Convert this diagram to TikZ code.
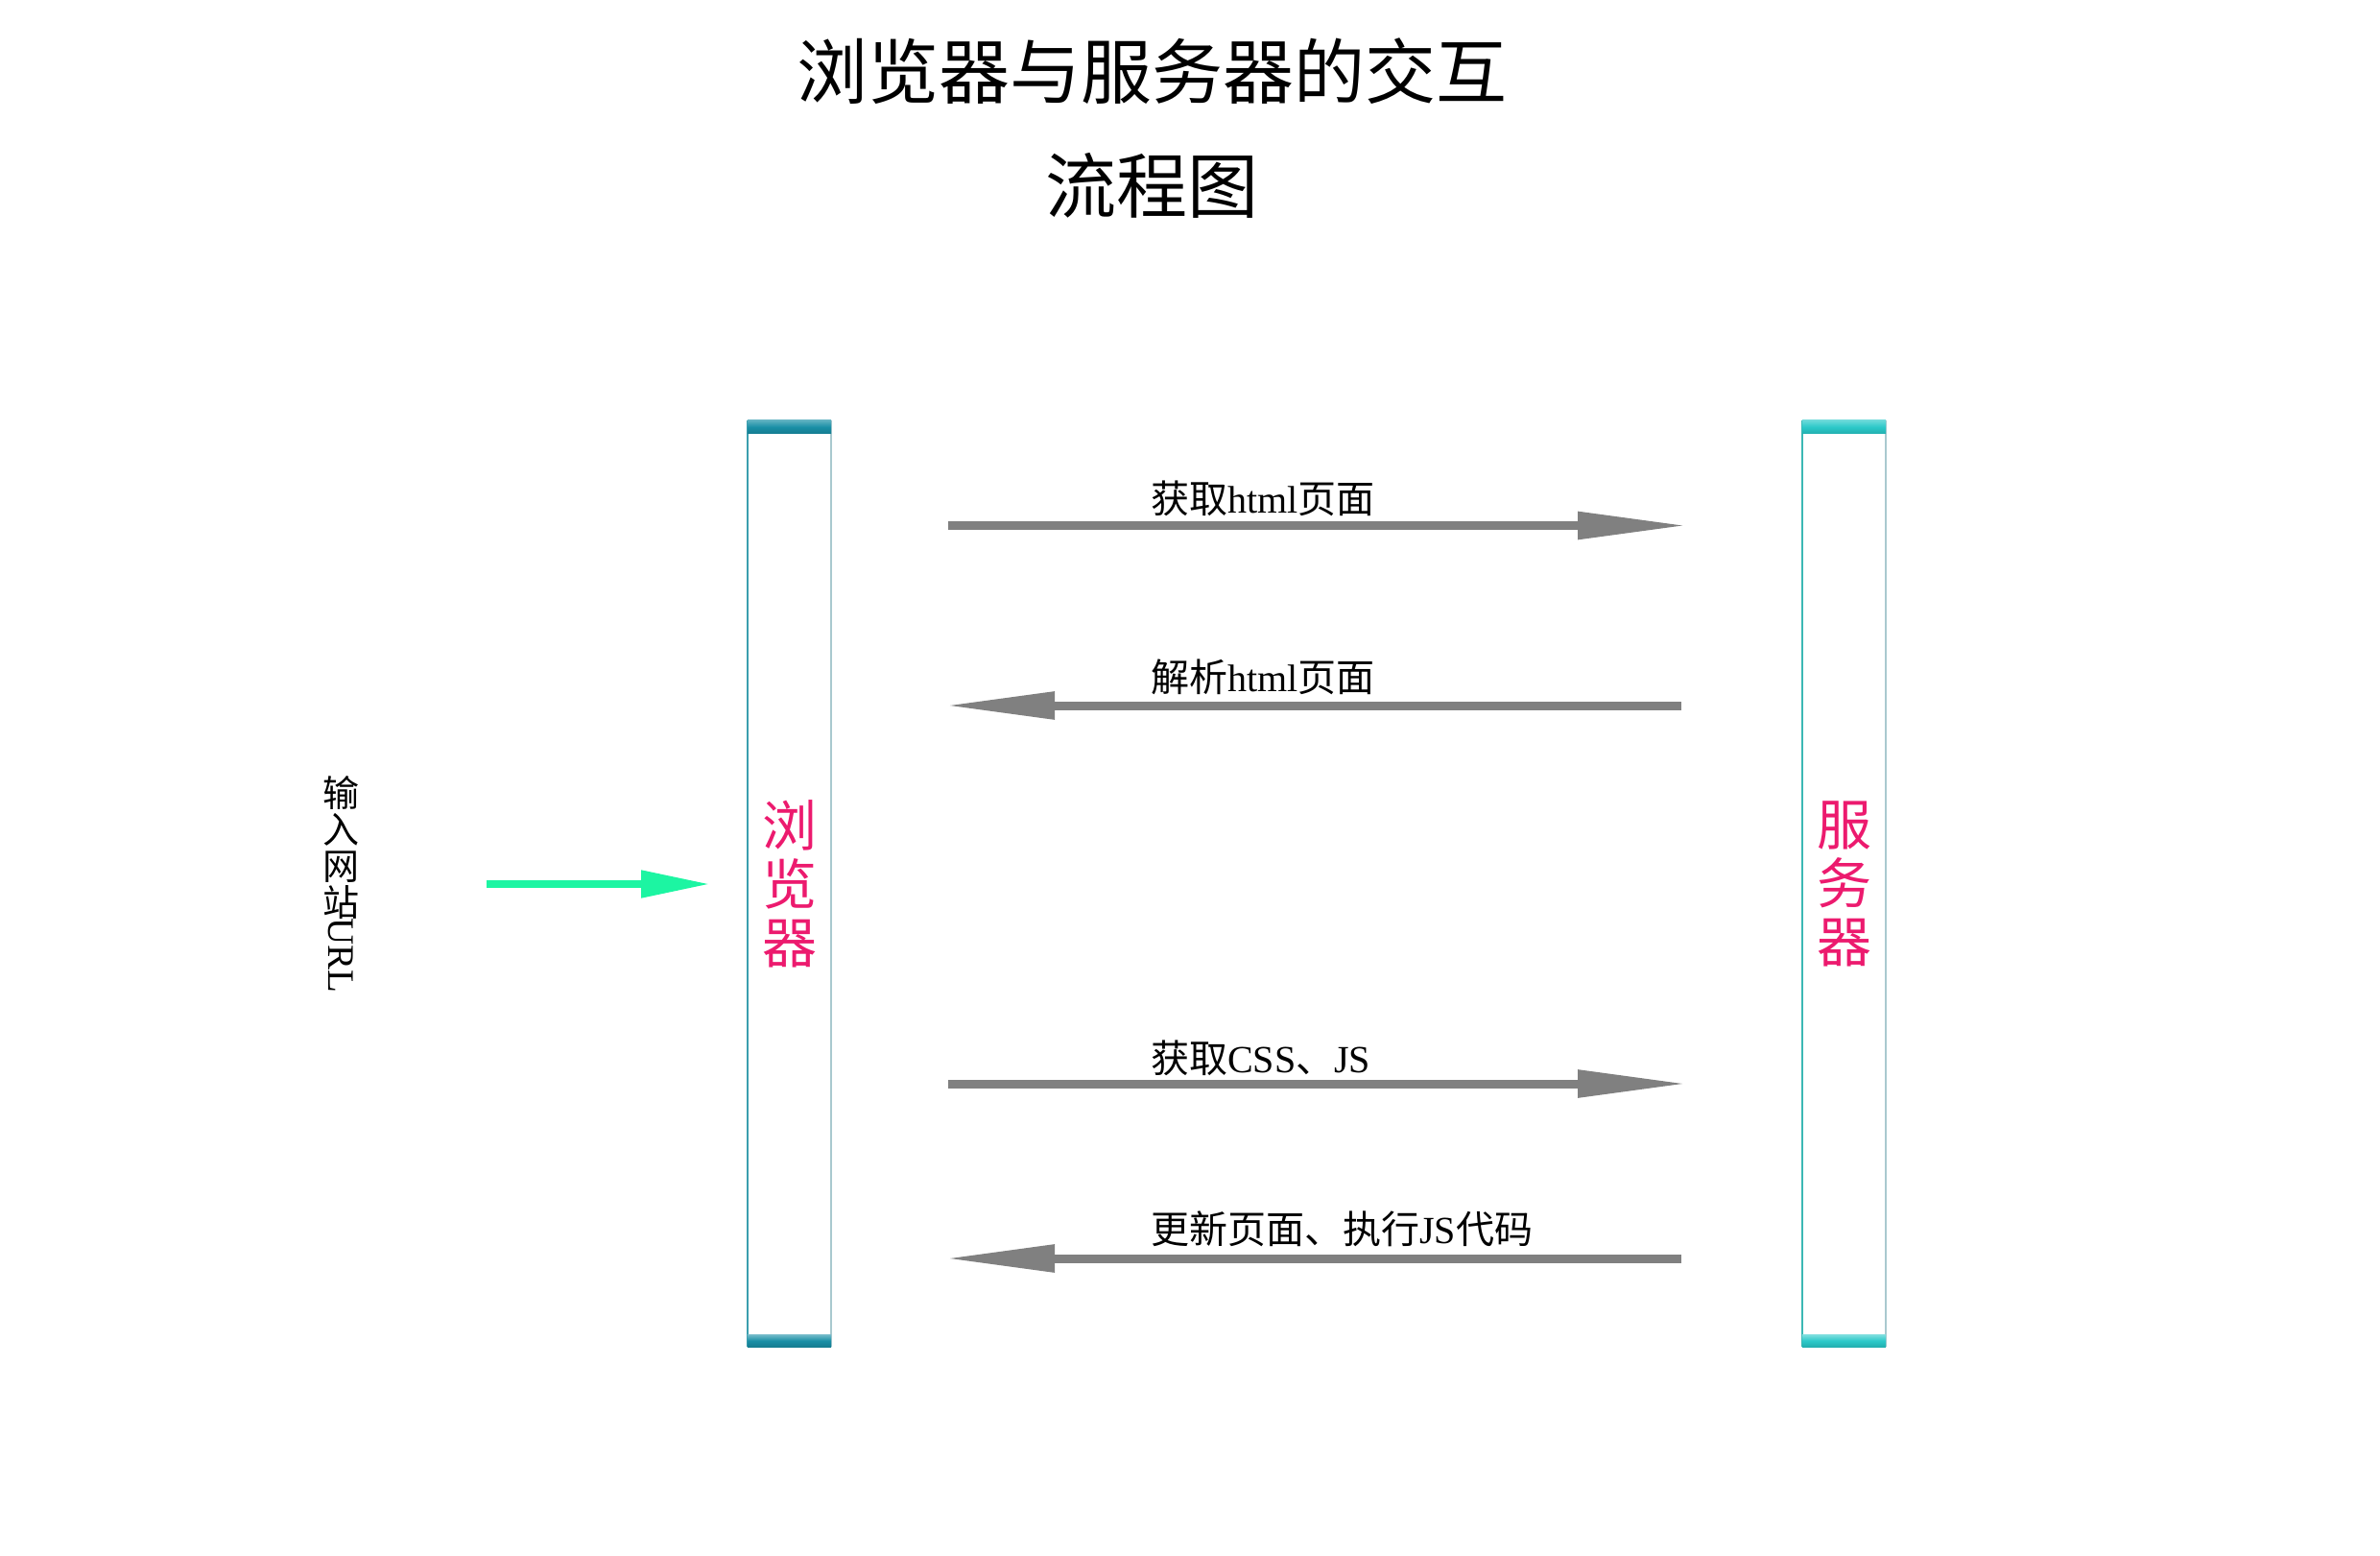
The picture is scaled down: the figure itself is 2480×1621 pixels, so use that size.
\documentclass[tikz,border=0pt]{standalone}
\usepackage{fontspec}
\setmainfont{Liberation Serif}
\newfontfamily\cjk{Noto Sans CJK SC}
\usetikzlibrary{arrows.meta}
\definecolor{pinktxt}{HTML}{EC1A6E}
\definecolor{greenarr}{HTML}{1CF5A2}
\definecolor{grayarr}{HTML}{808080}
\definecolor{bband}{HTML}{1A8FA6}
\definecolor{bbandd}{HTML}{157C90}
\definecolor{sband}{HTML}{2CC9C9}
\definecolor{sbandd}{HTML}{22AFAF}
\definecolor{bleft}{HTML}{3B9EAE}
\definecolor{sleft}{HTML}{3BB8B4}
\definecolor{rline}{HTML}{A9C9CF}
\tikzset{
  column/.style={minimum width=87pt, minimum height=965pt, inner sep=0pt, align=center,
    text=pinktxt, font=\cjk\fontsize{57}{61}\selectfont},
  msg/.style={line width=9pt, color=grayarr, -{Triangle[length=114pt,width=27pt]}},
  msglabel/.style={anchor=west, inner sep=0pt, font=\fontsize{40}{40}\selectfont},
  urlarrow/.style={line width=8pt, color=greenarr, -{Triangle[length=72pt,width=27pt]}}
}
\begin{document}
\begin{tikzpicture}[x=1pt,y=-1pt]
\useasboundingbox (0,0) rectangle (2480,1621);
% title
\node (title) [align=center, inner sep=0pt, font=\cjk\fontsize{74}{119}\selectfont] at (1200,134) {浏览器与服务器的交互\\流程图};
% columns
\node (browser) [column] at (822.5,920.5) {浏\\览\\器};
\node (server) [column] at (1921.5,920.5) {服\\务\\器};
% column borders
\draw[line width=2.5pt, bleft] (browser.north west) -- (browser.south west);
\draw[line width=1.5pt, rline] (browser.north east) -- (browser.south east);
\draw[line width=2.5pt, sleft] (server.north west) -- (server.south west);
\draw[line width=1.5pt, rline] (server.north east) -- (server.south east);
% bands
\shade[top color=bband!70!white, bottom color=bbandd, middle color=bband] (browser.north west) rectangle ([yshift=-14pt]browser.north east);
\shade[top color=bband!60!white, bottom color=bbandd, middle color=bband] ([yshift=13pt]browser.south west) rectangle (browser.south east);
\shade[top color=sband!70!white, bottom color=sbandd, middle color=sband] (server.north west) rectangle ([yshift=-14pt]server.north east);
\shade[top color=sband!60!white, bottom color=sbandd, middle color=sband] ([yshift=13pt]server.south west) rectangle (server.south east);
% input URL
\node (url) [anchor=north, inner sep=0pt, align=center, font=\cjk\fontsize{38}{38}\selectfont] at (355,808) {输\\入\\网\\站\\[-2pt]\rotatebox[origin=c]{-90}{\rmfamily\fontsize{39}{39}\selectfont URL}};
\coordinate (urlstart) at (507,921);
\coordinate (urlend) at (740,921);
\draw[urlarrow] (urlstart) -- (urlend);
% messages
\coordinate (m1s) at (988,547.5);  \coordinate (m1e) at (1758,547.5);
\coordinate (m2s) at (1752,735); \coordinate (m2e) at (985,735);
\coordinate (m3s) at (988,1129); \coordinate (m3e) at (1758,1129);
\coordinate (m4s) at (1752,1311); \coordinate (m4e) at (985,1311);
\draw[msg] (m1s) -- (m1e);
\draw[msg] (m2s) -- (m2e);
\draw[msg] (m3s) -- (m3e);
\draw[msg] (m4s) -- (m4e);
\node (l1) [msglabel] at (1199,519) {{\cjk 获取}html{\cjk 页面}};
\node (l2) [msglabel] at (1199,705) {{\cjk 解析}html{\cjk 页面}};
\node (l3) [msglabel] at (1199,1102) {{\cjk 获取}CSS{\cjk 、}JS};
\node (l4) [msglabel] at (1199,1280) {{\cjk 更新页面、执行}JS{\cjk 代码}};
\end{tikzpicture}
\end{document}
